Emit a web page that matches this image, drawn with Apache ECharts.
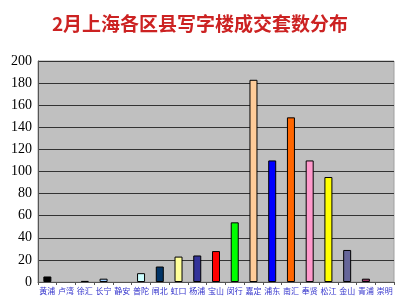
<!DOCTYPE html>
<html>
<head>
<meta charset="utf-8">
<script src="https://cdn.jsdelivr.net/npm/echarts@6/dist/echarts.min.js"></script>
<style>
  html, body { margin: 0; padding: 0; background: #fff; }
  #chart { width: 400px; height: 300px; }
</style>
</head>
<body>
<div id="chart"></div>
<script>
// 区县
const districts = ['黄浦', '卢湾', '徐汇', '长宁', '静安', '普陀', '闸北', '虹口', '杨浦', '宝山',
  '闵行', '嘉定', '浦东', '南汇', '奉贤', '松江', '金山', '青浦', '崇明']
// 成交套数
const deals = [5, 0, 1, 3, 0, 8, 14, 23, 24, 28, 54, 183, 110, 149, 110, 95, 29, 3, 0]
// 柱子颜色
const barColors = ['#000000', '#000000', '#222222', '#99ccff', '#ffffff', '#ccffff', '#003366', '#ffff99',
  '#333399', '#ff0000', '#00ff00', '#ffcc99', '#0000ff', '#ff6600', '#ff99cc', '#ffff00', '#666699',
  '#993366', '#ffffff']
const yTicks = { min: 0, max: 200, interval: 20 }

const myChart = echarts.init(document.getElementById('chart'))

// 0 套的区县不画柱子边框
const barData = deals.map((v, i) => ({
  value: v,
  itemStyle: {
    color: barColors[i],
    borderColor: '#000000',
    borderWidth: v > 0 ? 1 : 0,
    opacity: v > 0 ? 1 : 0
  }
}))

const chartOption = {
  backgroundColor: '#ffffff',
  animation: false,
  title: {
    text: '2月上海各区县写字楼成交套数分布',
    left: 'center',
    top: 9,
    textStyle: {
      color: '#cc2222',
      fontSize: 19,
      fontWeight: 'bold',
      fontFamily: 'Noto Sans CJK SC'
    }
  },
  grid: {
    left: 38,
    right: 6,
    top: 61,
    bottom: 18,
    show: true,
    backgroundColor: '#c0c0c0',
    borderColor: '#a0a0a0',
    borderWidth: 1
  },
  xAxis: {
    type: 'category',
    data: districts,
    axisLine: { lineStyle: { color: '#555555', width: 1 } },
    axisTick: { show: true, length: 3, lineStyle: { color: '#555555' } },
    axisLabel: {
      interval: 0,
      color: '#3333cc',
      fontSize: 8,
      margin: 5,
      fontFamily: 'Noto Sans CJK SC'
    }
  },
  yAxis: {
    type: 'value',
    min: yTicks.min,
    max: yTicks.max,
    interval: yTicks.interval,
    axisLine: { show: true, lineStyle: { color: '#555555' } },
    axisTick: { show: false },
    splitLine: { lineStyle: { color: '#333333', width: 1 } },
    axisLabel: {
      color: '#000000',
      fontSize: 14,
      margin: 6,
      fontFamily: 'Liberation Serif'
    }
  },
  series: [
    {
      type: 'bar',
      data: barData,
      barWidth: 8
    }
  ]
}

myChart.setOption(chartOption)
</script>
</body>
</html>
